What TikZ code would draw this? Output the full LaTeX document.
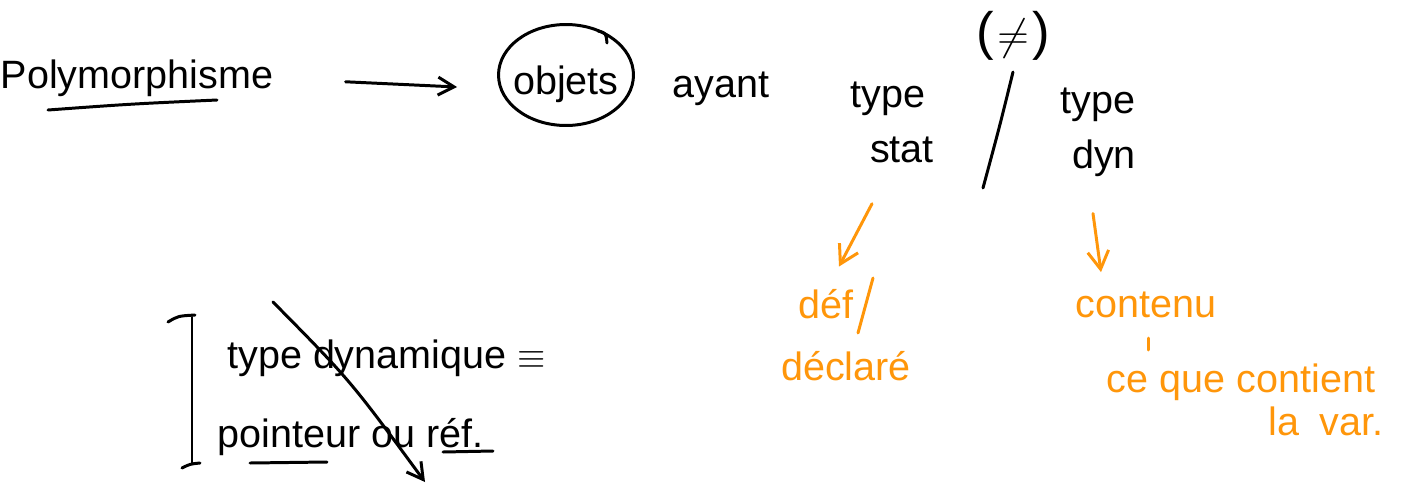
\documentclass[tikz,border=0pt]{standalone}
\usepackage{fontspec}
\setmainfont{Liberation Sans}
\usetikzlibrary{arrows.meta,shapes.geometric,calc}
\definecolor{hand}{RGB}{255,150,10}
\begin{document}
\begin{tikzpicture}[x=0.02cm,y=-0.02cm,
  txt/.style={font=\fontsize{22.5}{26}\selectfont, inner sep=0pt, anchor=base},
  otxt/.style={txt, text=hand},
  pen/.style={line width=1.7pt, line cap=round, line join=round},
  open/.style={pen, draw=hand},
  barb/.style={-{Straight Barb[length=0.32cm,width=0.36cm]}},
  obarb/.style={-{Straight Barb[length=0.36cm,width=0.42cm]}}]
\useasboundingbox (0,0) rectangle (1404,484);

% top row
\node[txt] (poly) at (137,88) {Polymorphisme};
\draw[pen] (48,110) .. controls (130,104) .. (217,100);
\node[draw, pen, ellipse, minimum width=2.7cm, minimum height=2.02cm, inner sep=0pt,
      font=\fontsize{22.5}{26}\selectfont] (obj) at (566,75)
      {\makebox[0pt]{\raisebox{-0.4cm}[0pt][0pt]{objets}}};
\draw[pen] (598,31) .. controls (606,33) .. (607,43);
\draw[pen,barb] ($(poly.east)+(72,4)$) -- ($(obj.west)+(-40,12)$);
\node[txt] (ayant) at (721,97) {ayant};
\node[txt] (type1) at (888,107) {type};
\node[txt] (stat) at (902,162) {stat};
\node[font=\fontsize{30}{34}\selectfont, inner sep=0pt] (neq) at (1013,36) {(\kern2pt$\neq$\kern2pt)};
\draw[pen] (1013,72) .. controls (1000,125) .. (983,188);
\node[txt] (type2) at (1098,113) {type};
\node[txt] (dyn) at (1104,168) {dyn};

% orange branch: static type
\node[otxt] (def) at (826,318) {déf};
\draw[open] (873,278) -- (858,333);
\node[otxt] (decl) at (846,380) {déclaré};
\draw[open,obarb] ($(stat.south)+(-30,41)$) -- ($(def.north)+(13,-22)$);

% orange branch: dynamic type
\node[otxt] (cont) at (1146,317) {contenu};
\draw[open] (1148,338) -- (1148,350);
\node[otxt] (ceque) at (1241,392) {ce que contient};
\node[otxt] (lavar) at (1326,435) {la\hspace{0.5em}var.};
\draw[open,obarb] ($(dyn.south)+(-11,37)$) -- ($(cont.north)+(-45,-19)$);

% bottom left note
\draw[pen] (168,322) .. controls (178,316) .. (195,315);
\draw[pen] (192,317) -- (192,463);
\draw[pen] (182,468) .. controls (190,464) .. (200,463);
\node[txt, anchor=base west] (tdyn) at (227,368) {type dynamique $\equiv$};
\node[txt, anchor=base west] (point) at (217,447) {pointeur ou réf.};
\draw[pen] (250,463) -- (327,462);
\draw[pen] (443,452) -- (493,451);
\draw[pen,barb] (273,302) .. controls (350,380) .. (425,482);
\end{tikzpicture}
\end{document}
